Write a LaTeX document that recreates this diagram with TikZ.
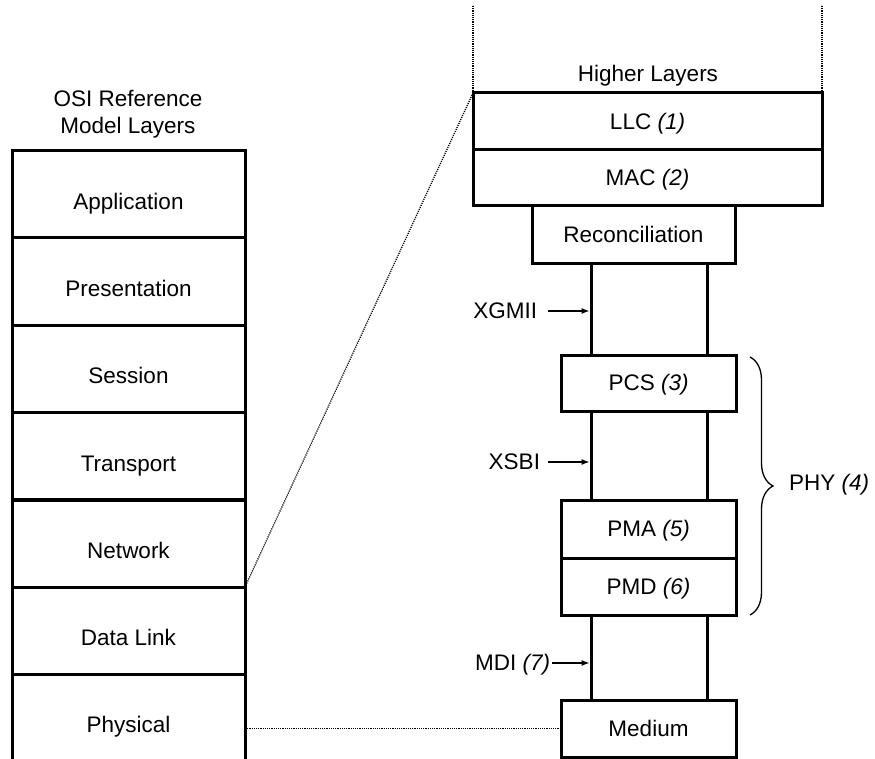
\documentclass[tikz,border=0pt]{standalone}
\usepackage{fontspec}
\setmainfont{Liberation Sans}
\usetikzlibrary{arrows.meta,decorations.pathreplacing}
\begin{document}
\begin{tikzpicture}[x=1pt,y=-1pt,
  every node/.style={font=\fontsize{22.5}{27}\selectfont,inner sep=0pt,outer sep=0pt},
  osibox/.style={draw,line width=3pt,minimum width=233pt,minimum height=87pt,text height=30pt,text depth=0pt},
  laybox/.style={draw,line width=3pt,text height=15.75pt,text depth=0pt},
  capbox/.style={text height=15.75pt,text depth=0pt},
  thickline/.style={line width=3pt},
  dots/.style={line width=1.3pt,dash pattern=on 1.1pt off 1.1pt},
  arr/.style={line width=1.1pt,-{Latex[length=8pt,width=6pt]},shorten >=1.5pt}
]
\useasboundingbox (0,0) rectangle (875,759);

% left stack
\node[anchor=base] (osiA) at (128,107) {OSI Reference};
\node[anchor=base] (osiB) at (128,134) {Model Layers};
\node[osibox] (app)   at (128.5,194.5) {Application};
\node[osibox] (pres)  at (128.5,281.5) {Presentation};
\node[osibox] (sess)  at (128.5,368.5) {Session};
\node[osibox] (trans) at (128.5,456)   {Transport};
\node[osibox] (net)   at (128.5,543.5) {Network};
\node[osibox] (dl)    at (128.5,630.5) {Data Link};
\node[osibox,draw=none] (phys) at (128.5,717.5) {Physical};
\coordinate (bottom) at (0,770);
\draw[thickline] (phys.north west) -- (phys.north west |- bottom);
\draw[thickline] (phys.north east) -- (phys.north east |- bottom);

% right stack
\node[anchor=base] (higher) at (648,82) {Higher Layers};
\node[laybox,minimum width=349pt,minimum height=57pt] (llc) at (647.5,121.5) {LLC \textit{(1)}};
\node[laybox,minimum width=349pt,minimum height=56pt] (mac) at (647.5,178) {MAC \textit{(2)}};
\node[laybox,minimum width=203pt,minimum height=58pt] (recon) at (633.5,235) {Reconciliation};
\node[laybox,minimum width=175pt,minimum height=56pt] (pcs) at (648.5,383) {PCS \textit{(3)}};
\node[laybox,minimum width=175pt,minimum height=58pt] (pma) at (648.5,529) {PMA \textit{(5)}};
\node[laybox,minimum width=175pt,minimum height=57pt] (pmd) at (648.5,586.5) {PMD \textit{(6)}};
\node[laybox,minimum width=175pt,minimum height=57pt] (medium) at (648.5,728.5) {Medium};

\coordinate (xl) at (591,0);
\coordinate (xr) at (707,0);
\draw[thickline] (recon.south -| xl) -- (pcs.north -| xl);
\draw[thickline] (recon.south -| xr) -- (pcs.north -| xr);
\draw[thickline] (pcs.south -| xl) -- (pma.north -| xl);
\draw[thickline] (pcs.south -| xr) -- (pma.north -| xr);
\draw[thickline] (pmd.south -| xl) -- (medium.north -| xl);
\draw[thickline] (pmd.south -| xr) -- (medium.north -| xr);

% interface labels
\node[capbox,anchor=east] (xgmii) at (537,311) {XGMII};
\node[capbox,anchor=east] (xsbi) at (540,462) {XSBI};
\node[capbox,anchor=east] (mdi) at (550,663) {MDI \textit{(7)}};
\draw[arr] ([xshift=11pt]xgmii.east) -- (xgmii.east -| xl);
\draw[arr] ([xshift=8pt]xsbi.east) -- (xsbi.east -| xl);
\draw[arr] ([xshift=2pt]mdi.east) -- (mdi.east -| xl);

% PHY brace
\coordinate (braceTop) at (750,357);
\coordinate (braceBot) at (750,615);
\draw[line width=1.3pt,decorate,decoration={brace,amplitude=23pt,aspect=0.5}] (braceTop) -- (braceBot);
\node[capbox,anchor=west] (phy) at (789,483) {PHY \textit{(4)}};

% dotted connections
\coordinate (top) at (0,5);
\draw[dots] (llc.north west) -- (llc.north west |- top);
\draw[dots] (llc.north east) -- (llc.north east |- top);
\draw[dots] (llc.north west) -- (dl.north east);
\draw[dots] (medium.west -| phys.east) -- (medium.west);
\end{tikzpicture}
\end{document}
